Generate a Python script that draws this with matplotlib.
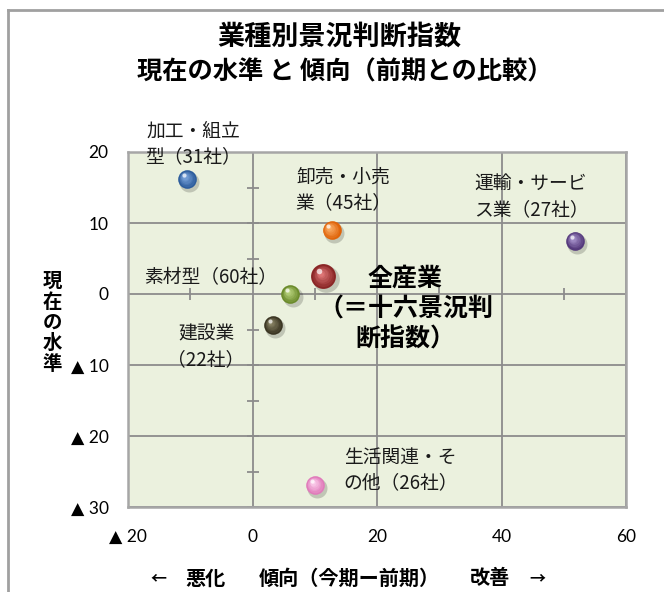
import matplotlib
matplotlib.use("Agg")
import matplotlib.pyplot as plt
import matplotlib.transforms as mtransforms
import matplotlib.colors as mc
from matplotlib.lines import Line2D

plt.rcParams['font.family'] = ['Noto Sans CJK JP', 'DejaVu Sans']

# ---- data ----
labels = ["加工・組立\n型（31社）", "卸売・小売\n業（45社）", "全産業\n（＝十六景況判\n断指数）",
          "素材型（60社）", "建設業\n（22社）", "運輸・サービ\nス業（27社）", "生活関連・そ\nの他（26社）"]
trend = [-10.5, 12.7, 11.4, 6.1, 3.3, 51.8, 10.1]      # x: 傾向（今期ー前期）
level = [16.2, 9.0, 2.5, 0.0, -4.4, 7.5, -26.9]        # y: 現在の水準
base_colors = ["#2C5C9C", "#E0640A", "#8A2626", "#6A8A2A", "#3A3522", "#553A7C", "#E07ABA"]
light_colors = ["#7FA8DE", "#FBB06A", "#DD7575", "#BCD682", "#8A8466", "#A894CC", "#FCD0EC"]
is_total = [False, False, True, False, False, False, False]
label_offsets = [(6, 35), (12, 40), (82, -33), (-80, 16), (-67, -22), (-44, 44), (85, 15)]

xticks = [-20, 0, 20, 40, 60]
xticklabels = ["▲ 20", "0", "20", "40", "60"]
yticks = [-30, -20, -10, 0, 10, 20]
yticklabels = ["▲ 30", "▲ 20", "▲ 10", "0", "10", "20"]

W, H = 664, 592
fig = plt.figure(figsize=(W / 100, H / 100), dpi=100)
fig.patch.set_facecolor("white")

# outer frame (top and left edges visible)
fig.add_artist(Line2D([8 / W, 1.0], [1 - 10 / H, 1 - 10 / H], transform=fig.transFigure,
                      color="#A0A0A0", lw=2))
fig.add_artist(Line2D([8 / W, 8 / W], [0, 1 - 10 / H], transform=fig.transFigure,
                      color="#A0A0A0", lw=2))

left, right, top, bottom = 128, 626, 152, 507
ax = fig.add_axes([left / W, 1 - bottom / H, (right - left) / W, (bottom - top) / H])
ax.set_facecolor("#EBF1DE")
ax.set_xlim(-20, 60)
ax.set_ylim(-30, 20)
ax.set_xticks(xticks)
ax.set_xticklabels(xticklabels)
ax.set_yticks(yticks)
ax.set_yticklabels(yticklabels)
ax.tick_params(length=0, labelsize=12.5, pad=14, colors="black")
for t in ax.get_xticklabels() + ax.get_yticklabels():
    t.set_fontfamily(["Lato", "DejaVu Sans"])
ax.tick_params(axis="x", pad=16)
ax.grid(True, color="#8C8C8C", lw=1.3)
ax.set_axisbelow(True)
for s in ax.spines.values():
    s.set_color("#A6A6A6")
    s.set_linewidth(1.8)

# small tick marks along the crossing axes
ax.plot([-10, 10, 30, 50], [0, 0, 0, 0], ls="none", marker="|", ms=9, mew=1.3, color="#8C8C8C", zorder=1.5)
ax.plot([0] * 9, [-30, -25, -15, -5, 5, 15, -20, -10, 10], ls="none", marker="_", ms=9, mew=1.3,
        color="#8C8C8C", zorder=1.5)

# spheres
for x, y, bc, lc, tot in zip(trend, level, base_colors, light_colors, is_total):
    s = 320 if tot else 180
    sh = mtransforms.offset_copy(ax.transData, fig=fig, x=1.5, y=-2.0, units="points")
    ax.scatter([x], [y], s=s * 1.15, color="#000000", alpha=0.18, lw=0, transform=sh, zorder=3)
    ax.scatter([x], [y], s=s, color=bc, lw=0, zorder=4)
    n = 6
    c0 = mc.to_rgb(bc)
    c1 = mc.to_rgb(lc)
    for i in range(1, n + 1):
        f = i / n
        col = tuple(c0[k] + (c1[k] - c0[k]) * f for k in range(3))
        size = s * (1 - 0.8 * f) ** 2 * 0.95
        off = mtransforms.offset_copy(ax.transData, fig=fig, x=-1.9 * f, y=1.9 * f, units="points")
        ax.scatter([x], [y], s=size, color=col, lw=0, transform=off, zorder=4 + i * 0.01)
    hl = mtransforms.offset_copy(ax.transData, fig=fig, x=-2.3 if not tot else -3, y=2.7 if not tot else 3.6,
                                 units="points")
    ax.scatter([x], [y], s=s * 0.05, color="white", alpha=0.7, lw=0, transform=hl, zorder=5)

# point labels
for x, y, lab, off, tot in zip(trend, level, labels, label_offsets, is_total):
    if tot:
        ax.annotate(lab, (x, y), xytext=off, textcoords="offset pixels", ha="center", va="center",
                    fontsize=18, fontweight="bold", linespacing=1.32, multialignment="center", zorder=6)
    else:
        ax.annotate(lab, (x, y), xytext=off, textcoords="offset pixels", ha="center", va="center",
                    fontsize=13.5, linespacing=1.3, multialignment="center", color="#1A1A1A", zorder=6)

# title
fig.text(339 / W, 1 - 37 / H, "業種別景況判断指数", ha="center", va="center", fontsize=19.5, fontweight="bold")
fig.text(345 / W, 1 - 72 / H, "現在の水準 と 傾向（前期との比較）", ha="center", va="center",
         fontsize=18.2, fontweight="bold")

# axis titles
fig.text(52 / W, 1 - 323 / H, "\n".join("現在の水準"), ha="center", va="center", fontsize=14,
         fontweight="bold", linespacing=1.12)
for txt, cx, fs in [("←", 158, 11.5), ("悪化", 205, 14.5), ("傾向（今期ー前期）", 349, 14.5),
                    ("改善", 490, 14.5), ("→", 537, 11.5)]:
    fig.text(cx / W, 1 - 578 / H, txt, ha="center", va="center", fontsize=fs, fontweight="bold")

fig.savefig("out.png", dpi=100)
